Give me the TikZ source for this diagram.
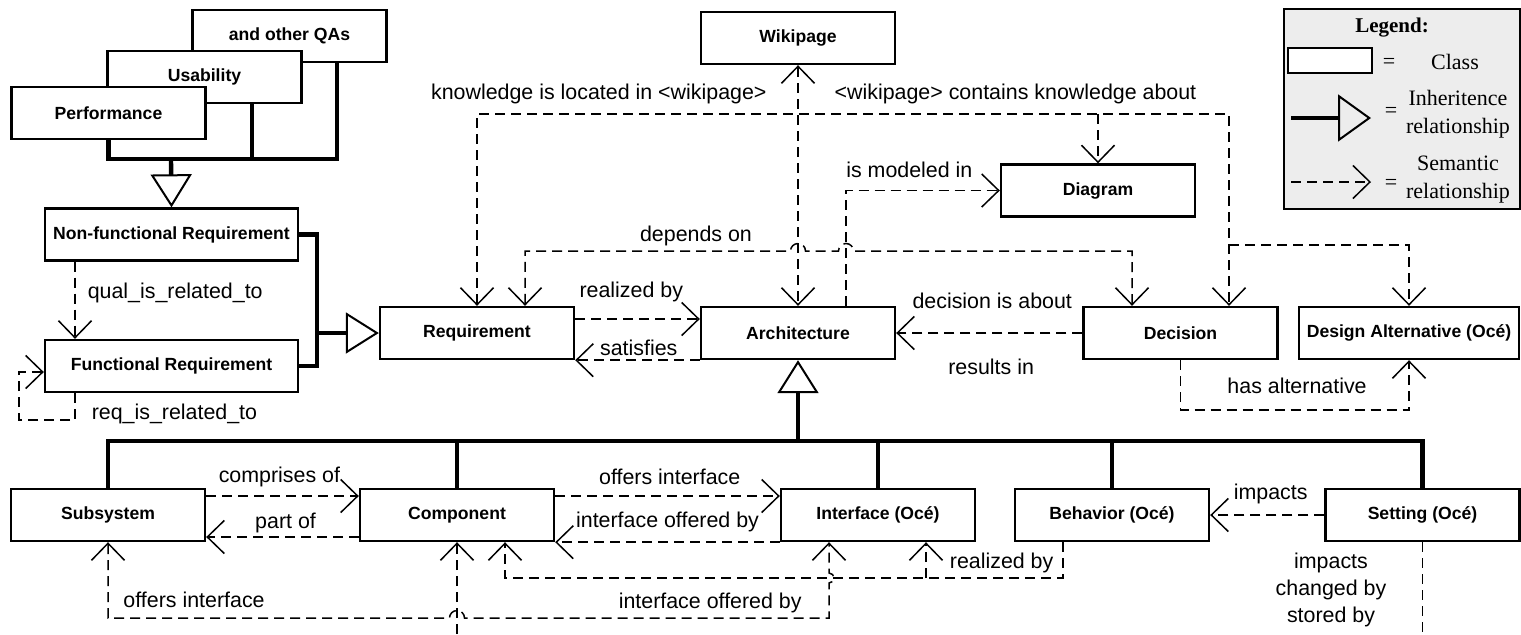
\documentclass[tikz,border=0pt]{standalone}
\usepackage{fontspec}
\setmainfont{Liberation Serif}
\setsansfont{Liberation Sans}
\usetikzlibrary{arrows.meta}

\begin{document}
\begin{tikzpicture}[x=0.5pt,y=-0.5pt,
    >={Straight Barb[length=8.5pt,width=16.5pt,line width=0.75pt]},
    cls/.style={draw,fill=white,line width=1.2pt,minimum width=97pt,minimum height=26pt,inner sep=0pt,
        font=\sffamily\bfseries\fontsize{8.8}{10}\selectfont},
    lbl/.style={inner sep=0pt,font=\sffamily\fontsize{10.7}{13.5}\selectfont},
    sem/.style={->,line width=0.75pt,dash pattern=on 5pt off 3pt},
    thickline/.style={line width=2.2pt},
    inherit/.style={thickline,-{Triangle[open,length=16.5pt,width=20.5pt,line width=1pt]}},
    legtxt/.style={inner sep=0pt,font=\fontsize{11}{14}\selectfont}]

\useasboundingbox (0,0) rectangle (1521,634);

\node[cls] (qas) at (289.5,36) {and other QAs};
\node[cls] (usab) at (204.5,77) {Usability};
\node[cls] (perf) at (108.5,113) {Performance};
\node[cls,minimum width=126.5pt] (nfr) at (171.5,234.5) {Non-functional Requirement};
\node[cls,minimum width=126.5pt] (fr) at (171.5,366) {Functional Requirement};
\node[cls] (req) at (477,333) {Requirement};
\node[cls] (arch) at (798,333) {Architecture};
\node[cls] (dec) at (1180.5,333) {Decision};
\node[cls,minimum width=110pt] (desalt) at (1409,333) {Design Alternative (Océ)};
\node[cls] (wiki) at (798,38) {Wikipage};
\node[cls] (diag) at (1098,190.5) {Diagram};
\node[cls] (subsys) at (108,515) {Subsystem};
\node[cls] (comp) at (457,515) {Component};
\node[cls] (intf) at (878,515) {Interface (Océ)};
\node[cls] (behav) at (1112,515) {Behavior (Océ)};
\node[cls] (setting) at (1422.5,515) {Setting (Océ)};

% inheritance
\coordinate (qabus) at (171,159);
\coordinate (usabstub) at ([xshift=23.75pt]usab.south);
\coordinate (qasstub) at ([xshift=23.75pt]qas.south);
\draw[thickline] (perf.south) |- (qasstub |- qabus) -- (qasstub);
\draw[thickline] (usabstub) -- (usabstub |- qabus);
\draw[inherit] (qabus) -- (nfr.north);

\coordinate (reqbus) at (317,333);
\draw[thickline] (nfr.east) -| (reqbus |- fr.east) -- (fr.east);
\draw[inherit] (reqbus) -- (req.west);

\coordinate (archbus) at (798,441);
\draw[inherit] (archbus) -- (arch.south);
\draw[thickline] (subsys.north) |- (setting.north |- archbus) -- (setting.north);
\foreach \n in {comp,intf,behav}
  \draw[thickline] (\n.north) -- (\n.north |- archbus);

% semantic relationships
\coordinate (kr) at (1229,114);
\coordinate (kb) at (1229,245);
\draw[sem,<->] (wiki.south) -- (arch.north);
\draw[sem,<->] (req.north) |- node[lbl,pos=0.581,yshift=10pt] (lLoc) {knowledge is located in <wikipage>}
    node[lbl,pos=0.858,yshift=10pt] (lCont) {<wikipage> contains knowledge about} (kr) -- (kr |- dec.north);
\draw[sem] (diag.north |- kr) -- (diag.north);
\draw[sem] (kb) -| (desalt.north);

\coordinate (archR) at ([xshift=24pt]arch.north);
\draw[sem] (archR) |- node[lbl,pos=0.706,yshift=10.25pt] (lModel) {is modeled in} (diag.west);

\coordinate (reqR) at ([xshift=24pt]req.north);
\coordinate (decL) at ([xshift=-24.25pt]dec.north);
\draw[sem,<->] (reqR) |- node[lbl,pos=0.822,yshift=7.5pt] (lDep) {depends on} (790.5,251)
    arc[start angle=180,end angle=360,radius=7.5] -- (838.5,251)
    arc[start angle=180,end angle=360,radius=7.5] -| (decL);

\draw[sem] ([yshift=7pt]req.east) -- node[lbl,pos=0.45,yshift=13.5pt] (lReal) {realized by} ([yshift=7pt]arch.west);
\draw[sem] (arch.south west) -- node[lbl,pos=0.49,yshift=6pt] (lSat) {satisfies} (req.south east);
\draw[sem] (dec.west) -- node[lbl,pos=0.484,yshift=16pt] (lAbout) {decision is about}
    node[lbl,pos=0.49,yshift=-17pt] (lRes) {results in} (arch.east);
\draw[sem] (dec.south) -- ++(0,50) -| node[lbl,pos=0.255,yshift=12pt] (lAlt) {has alternative} (desalt.south);

\coordinate (nfrL) at ([xshift=-48.25pt]nfr.south);
\coordinate (frL) at ([xshift=-48.25pt]fr.south);
\draw[sem] (nfrL) -- node[lbl,pos=0.4,right=6pt] (lQual) {qual\_is\_related\_to} (nfrL |- fr.north);
\draw[sem] (frL) -- node[lbl,pos=0.78,right=8pt] (lReqRel) {req\_is\_related\_to} ++(0,27) -| (19,372) -- ([yshift=-3pt]fr.west);

\draw[sem] ([yshift=9.5pt]subsys.east) -- node[lbl,pos=0.48,yshift=9.5pt] (lCompr) {comprises of} ([yshift=9.5pt]comp.west);
\draw[sem] ([yshift=-11pt]comp.west) -- node[lbl,pos=0.48,yshift=7pt] (lPart) {part of} ([yshift=-11pt]subsys.east);
\draw[sem] ([yshift=9.5pt]comp.east) -- node[lbl,pos=0.51,yshift=9.5pt] (lOffer) {offers interface} ([yshift=9.5pt]intf.west);
\draw[sem] (intf.south west) -- node[lbl,pos=0.5,yshift=10pt] (lOffBy) {interface offered by} (comp.south east);
\draw[sem] (setting.west) -- node[lbl,pos=0.47,yshift=10.5pt] (lImp) {impacts} (behav.east);

\coordinate (intfL) at ([xshift=-24.5pt]intf.south);
\coordinate (intfR) at ([xshift=24pt]intf.south);
\coordinate (compR) at ([xshift=24pt]comp.south);
\coordinate (behavL) at ([xshift=-24.5pt]behav.south);
\coordinate (lvlA) at (0,618);
\coordinate (lvlB) at (0,578);
\coordinate (btm) at (0,650);
\draw[sem,<->] (subsys.south) |- node[lbl,pos=0.626,yshift=9pt] (lOffer2) {offers interface} (449.5,618)
    arc[start angle=180,end angle=360,radius=7.5]
    -- node[lbl,pos=0.674,yshift=7.5pt] (lOffBy2) {interface offered by} (intfL |- lvlA)
    -- (829,583) arc[start angle=90,end angle=-90,radius=5] -- (intfL);
\draw[sem] (behavL) |- node[lbl,pos=0.555,yshift=7.5pt] (lReal2) {realized by} (compR |- lvlB) -- (compR);
\draw[sem] (intfR |- lvlB) -- (intfR);
\draw[sem] (comp.south |- btm) -- (comp.south);
\draw[sem,-] (setting.south) -- node[lbl,align=center,pos=0.44,xshift=-45.75pt] (lSet) {impacts\\changed by\\stored by} (setting.south |- btm);

% legend
\node[draw,fill=black!7,line width=1.2pt,minimum width=118pt,minimum height=100pt,inner sep=0pt] (legend) at (1402,109) {};
\node[legtxt,font=\bfseries\fontsize{10.5}{12}\selectfont] (legtitle) at (1392,28) {Legend:};
\node[draw,fill=white,line width=1.2pt,minimum width=42pt,minimum height=12.5pt,inner sep=0pt] (legcls) at (1330,60.5) {};
\node[legtxt] (eqa) at (1389,63) {=};
\node[legtxt] (legclass) at (1455,62) {Class};
\coordinate (inhA) at (1291,118);
\coordinate (inhB) at (1371,118);
\draw[thickline,-{Triangle[open,length=16.5pt,width=23.5pt,line width=1pt]}] (inhA) -- (inhB);
\node[legtxt] (eqb) at (1391,112) {=};
\node[legtxt,align=center] (leginh) at (1458,114) {Inheritence\\relationship};
\coordinate (semA) at (1291,182);
\coordinate (semB) at (1371,182);
\draw[sem] (semA) -- (semB);
\node[legtxt] (eqc) at (1391,184) {=};
\node[legtxt,align=center] (legsem) at (1458,180) {Semantic\\relationship};
\end{tikzpicture}
\end{document}
